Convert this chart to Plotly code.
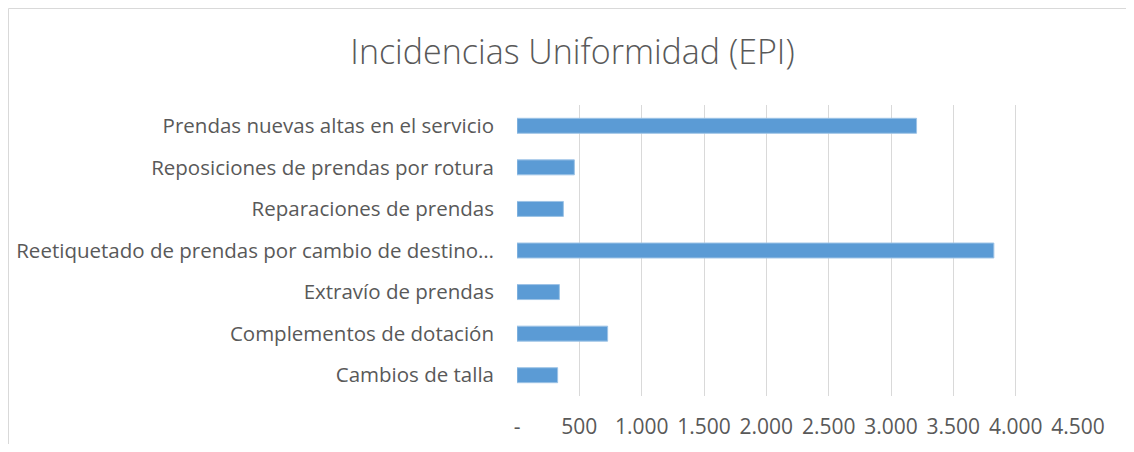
import plotly.graph_objects as go

categories = [
    "Cambios de talla",
    "Complementos de dotación",
    "Extravío de prendas",
    "Reetiquetado de prendas por cambio de destino…",
    "Reparaciones de prendas",
    "Reposiciones de prendas por rotura",
    "Prendas nuevas altas en el servicio",
]
values = [326, 727, 340, 3825, 372, 460, 3205]
tick_vals = [0, 500, 1000, 1500, 2000, 2500, 3000, 3500, 4000, 4500]
tick_text = ["-", "500", "1.000", "1.500", "2.000", "2.500", "3.000", "3.500", "4.000", "4.500"]

# page has an 8px body margin, so the figure is drawn 8px smaller/offset
W, H = 1118, 436
L, R, T, B = 509, 48, 97, 48

fig = go.Figure(go.Bar(
    x=values, y=categories, orientation="h",
    marker=dict(color="#5b9bd5", line=dict(color="#9dc3e6", width=1)),
))

pw = W - L - R
ph = H - T - B
x0 = (0.5 - L) / pw
y1 = 1 + (T - 0.5) / ph
x1 = 1 + (R + 10) / pw
y0 = -(B + 10) / ph

fig.update_layout(
    width=W, height=H,
    margin=dict(l=L, r=R, t=T, b=B, autoexpand=False),
    paper_bgcolor="white", plot_bgcolor="white",
    bargap=0.64,
    showlegend=False,
    title=dict(text="Incidencias Uniformidad (EPI)", x=564.5 / W, xref="container", xanchor="center",
               y=1 - 44 / H, yref="container", yanchor="middle",
               font=dict(family="Open Sans", size=34, color="#595959", weight=300)),
    font=dict(family="Open Sans", size=21, color="#595959"),
    xaxis=dict(range=[0, 4500], tickvals=tick_vals, ticktext=tick_text,
               showgrid=True, gridcolor="#d9d9d9", gridwidth=1.3, automargin=False,
               zeroline=False, showline=False, ticks="", ticklabelstandoff=16,
               tickfont=dict(size=21, color="#595959")),
    yaxis=dict(showgrid=False, zeroline=False, showline=False, ticks="", automargin=False,
               ticklabelstandoff=22, tickfont=dict(size=20.5, color="#595959")),
    shapes=[dict(type="rect", xref="paper", yref="paper", x0=x0, x1=x1, y0=y0, y1=y1,
                 line=dict(color="#d9d9d9", width=1), layer="below")],
)

fig.write_html("out.html")
